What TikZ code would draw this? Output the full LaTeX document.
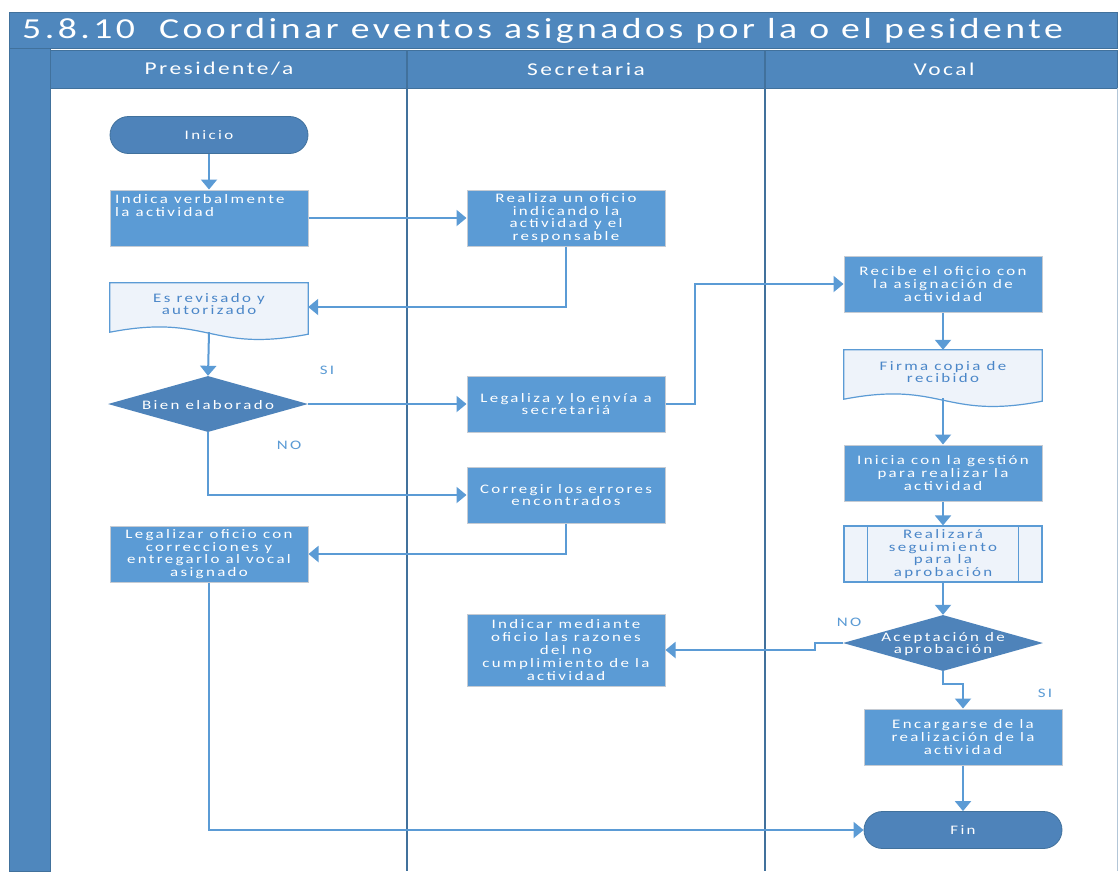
\documentclass[tikz,border=0pt]{standalone}
\usepackage{fontspec}
\setmainfont{Carlito}
\newfontfamily\boxf{Carlito}[FakeStretch=1.3, LetterSpace=18]
\newfontfamily\titlef{Carlito}[FakeStretch=1.3, LetterSpace=12]
\newfontfamily\hdrf{Carlito}[FakeStretch=1.3, LetterSpace=14]
\usetikzlibrary{arrows.meta,shapes.geometric,shapes.misc}
\definecolor{hdr}{HTML}{4F87BD}
\definecolor{hdrline}{HTML}{41719C}
\definecolor{boxc}{HTML}{5B9BD5}
\definecolor{darkc}{HTML}{4E83BA}
\definecolor{boxedge}{HTML}{C5CBD3}
\definecolor{txtblue}{HTML}{4A86C8}
\definecolor{docfill}{HTML}{EEF3FA}
\tikzset{
  x=1pt, y=-1pt,
  boxfont/.style={font=\boxf\fontsize{13}{12.8}\selectfont},
  proc/.style={rectangle, fill=boxc, draw=boxedge, line width=1pt, minimum width=198, minimum height=56,
    align=center, text=white, inner sep=0, boxfont},
  term/.style={rounded rectangle, fill=darkc, draw=hdrline, line width=0.8pt, minimum width=198, minimum height=37,
    text=white, inner sep=0, boxfont},
  dec/.style={diamond, aspect=3.5, fill=darkc, draw=none, minimum width=200, minimum height=56, inner sep=0},
  dectext/.style={text=white, align=center, inner sep=0, boxfont},
  docnode/.style={rectangle, draw=none, minimum width=198, minimum height=48, inner sep=0,
    align=center, text=txtblue, boxfont},
  docline/.style={draw=boxc, line width=1.2pt, fill=docfill},
  conn/.style={draw=boxc, line width=2pt, -{Triangle[length=10pt,width=16pt]}},
  lbl/.style={text=boxc, font=\boxf\fontsize{13}{14}\selectfont},
  lanehdr/.style={text=white, font=\hdrf\fontsize{18}{19}\selectfont},
}
\begin{document}
\begin{tikzpicture}
\useasboundingbox (0,0) rectangle (1118,871);
% frame
\fill[white] (0,0) rectangle (1118,871);
\draw[fill=hdr, draw=hdrline, line width=1pt] (9,12) rectangle (1117,48);
\draw[fill=hdr, draw=hdrline, line width=1pt] (9,48) rectangle (50,871);
\draw[fill=hdr, draw=hdrline, line width=1pt] (50,50) rectangle (1117,88);
\node[anchor=west, text=white, font=\titlef\fontsize{29}{30}\selectfont, inner sep=0] (title) at (22,31) {5.8.10\ \ Coordinar eventos asignados por la o el pesidente};
\node[lanehdr] (l1) at (219,69) {Presidente/a};
\node[lanehdr] (l2) at (586,69) {Secretaria};
\node[lanehdr] (l3) at (944,69) {Vocal};
\draw[hdrline, line width=2pt] (407,50) -- (407,871);
\draw[hdrline, line width=2pt] (765,50) -- (765,871);
\draw[hdrline!40, line width=1pt] (1117,88) -- (1117,871);

% nodes
\node[term] (inicio) at (209,135) {Inicio};
\node[proc] (indica) at (209,218) {};
\node[anchor=north west, text=white, align=left, boxfont, inner sep=0] (indicatxt) at (115,194) {Indica verbalmente\\la actividad};
\node[proc] (realiza) at (566,218) {Realiza un oficio\\indicando la\\actividad y el\\responsable};

\node[docnode] (rev) at (209,307) {};
\draw[docline] (rev.north west) -- (rev.north east) -- ([yshift=-3]rev.south east)
  .. controls ([xshift=-99,yshift=-22]rev.south east) and ([xshift=99,yshift=18]rev.south west) .. ([yshift=-1]rev.south west) -- cycle;
\node[docnode] (revtxt) at (209,304) {Es revisado y\\autorizado};

\node[dec] (bien) at (208,404) {};
\node[dectext] (bientxt) at (208,405) {Bien elaborado};
\node[proc] (legaliza) at (566,404) {Legaliza y lo envía a\\secretariá};
\node[proc] (corregir) at (566,495) {Corregir los errores\\encontrados};
\node[proc] (legalizar) at (209,554) {Legalizar oficio con\\correcciones y\\entregarlo al vocal\\asignado};
\node[proc, minimum height=72] (indicar) at (566,650) {Indicar mediante\\oficio las razones\\del no\\cumplimiento de la\\actividad};

\node[proc] (recibe) at (943,284) {Recibe el oficio con\\la asignación de\\actividad};
\node[docnode] (firma) at (943,374) {};
\draw[docline] (firma.north west) -- (firma.north east) -- ([yshift=-3]firma.south east)
  .. controls ([xshift=-99,yshift=-22]firma.south east) and ([xshift=99,yshift=18]firma.south west) .. ([yshift=-1]firma.south west) -- cycle;
\node[docnode] (firmatxt) at (943,372) {Firma copia de\\recibido};
\node[proc] (inicia) at (943,473) {Inicia con la gestión\\para realizar la\\actividad};
\node[rectangle, draw=boxc, fill=docfill, line width=1.2pt, minimum width=198, minimum height=56, inner sep=0,
  align=center, text=txtblue, boxfont] (realizara) at (943,554) {Realizará\\seguimiento\\para la\\aprobación};
\draw[boxc, line width=1.2pt] ([xshift=24]realizara.north west) -- ([xshift=24]realizara.south west);
\draw[boxc, line width=1.2pt] ([xshift=-24]realizara.north east) -- ([xshift=-24]realizara.south east);
\node[dec] (acept) at (943,643) {};
\node[dectext] (acepttxt) at (943,644) {Aceptación de\\aprobación};
\node[proc] (encargar) at (963,737) {Encargarse de la\\realización de la\\actividad};
\node[term] (fin) at (963,830) {Fin};

% labels
\node[lbl] (si1) at (327,370) {SI};
\node[lbl] (no1) at (289,445) {NO};
\node[lbl] (no2) at (849,622) {NO};
\node[lbl] (si2) at (1045,693) {SI};

% connectors
\coordinate (c1) at (695,404);
\coordinate (c2) at (815,643);
\coordinate (c3) at (943,684);
\draw[conn] (inicio.south) -- (indica.north);
\draw[conn] (indica.east) -- (realiza.west);
\draw[conn] (realiza.south) |- (rev.east);
\draw[conn] ([yshift=-1]rev.south) -- (bien.north);
\draw[conn] (bien.east) -- (legaliza.west);
\draw[conn] (legaliza.east) -- (c1) |- (recibe.west);
\draw[conn] (bien.south) |- (corregir.west);
\draw[conn] (corregir.south) |- (legalizar.east);
\draw[conn] (legalizar.south) |- (fin.west);
\draw[conn] (recibe.south) -- (firma.north);
\draw[conn] (firma.south) -- (inicia.north);
\draw[conn] (inicia.south) -- (realizara.north);
\draw[conn] (realizara.south) -- (acept.north);
\draw[conn] (acept.west) -- (c2) |- (indicar.east);
\draw[conn] (acept.south) -- (c3) -| (encargar.north);
\draw[conn] (encargar.south) -- (fin.north);
\end{tikzpicture}
\end{document}
